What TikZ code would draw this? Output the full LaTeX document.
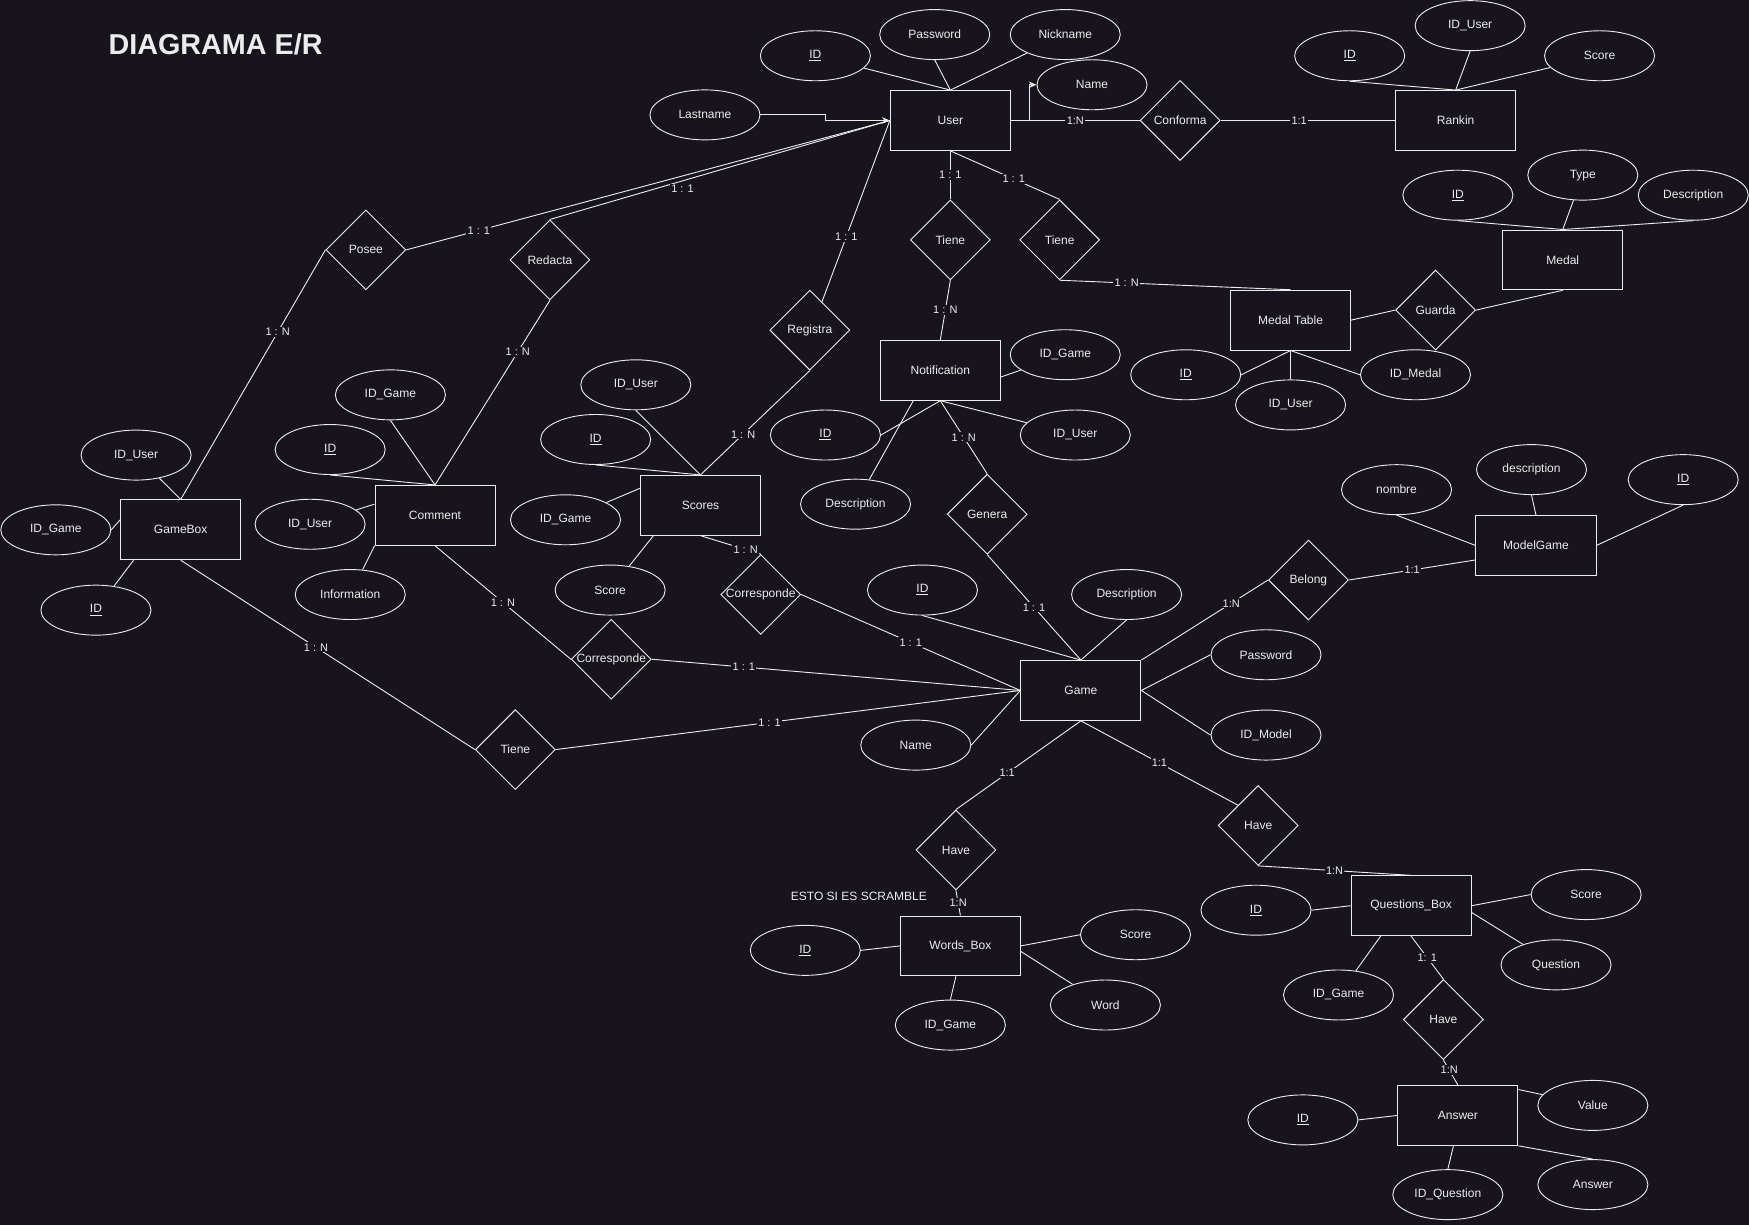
\documentclass[tikz,border=0pt]{standalone}
\usepackage{fontspec}
\setmainfont{Liberation Sans}
\usetikzlibrary{shapes.geometric,arrows.meta,calc}
\definecolor{bgcol}{RGB}{24,20,29}
\definecolor{fgcol}{RGB}{236,236,236}

\begin{document}
\begin{tikzpicture}[x=0.03cm,y=-0.03cm,
color=fgcol, line width=0.7pt,
font=\fontsize{9.2}{11}\selectfont,
ent/.style={draw, fill=bgcol, minimum width=3.23cm, minimum height=1.61cm, inner sep=0pt},
att/.style={draw, ellipse, minimum width=2.96cm, minimum height=1.345cm, inner sep=0pt},
rel/.style={draw, diamond, fill=bgcol, minimum size=2.15cm, inner sep=0pt},
card/.style={fill=bgcol, inner sep=1pt, font=\fontsize{8.4}{10}\selectfont},
arr/.style={-{Stealth[length=6pt,width=5pt]}}]
\fill[bgcol] (0,0) rectangle (1568,1098);
\useasboundingbox (0,0) rectangle (1568,1098);

\node[anchor=west, font=\bfseries\fontsize{22}{26}\selectfont] (title) at (93,40) {DIAGRAMA E/R};
\node (scramble) at (770,804) {ESTO SI ES SCRAMBLE};

\node[ent] (user) at (852,108) {User};
\node[ent] (rankin) at (1305,108) {Rankin};
\node[ent] (medal) at (1401,233) {Medal};
\node[ent] (medtable) at (1157,287) {Medal Table};
\node[ent] (notif) at (843,332) {Notification};
\node[ent] (scores) at (628,453) {Scores};
\node[ent] (comment) at (390,462) {Comment};
\node[ent] (gamebox) at (162,475) {GameBox};
\node[ent] (game) at (969,619) {Game};
\node[ent] (modelgame) at (1377,489) {ModelGame};
\node[ent] (wordsbox) at (861,848) {Words\_Box};
\node[ent] (qbox) at (1265,812) {Questions\_Box};
\node[ent] (answer) at (1307,1000) {Answer};

\node[att] (uID) at (731,50) {\underline{ID}};
\node[att] (uPass) at (838,31) {Password};
\node[att] (uNick) at (955,31) {Nickname};
\node[att] (uName) at (979,76) {Name};
\node[att] (uLast) at (632,103) {Lastname};
\node[att] (rID) at (1210,50) {\underline{ID}};
\node[att] (rUser) at (1318,23) {ID\_User};
\node[att] (rScore) at (1434,50) {Score};
\node[att] (mID) at (1307,175) {\underline{ID}};
\node[att] (mType) at (1419,157) {Type};
\node[att] (mDesc) at (1518,175) {Description};
\node[att] (mtID) at (1063,336) {\underline{ID}};
\node[att] (mtUser) at (1157,363) {ID\_User};
\node[att] (mtMedal) at (1269,336) {ID\_Medal};
\node[att] (nGame) at (955,318) {ID\_Game};
\node[att] (nID) at (740,390) {\underline{ID}};
\node[att] (nUser) at (964,390) {ID\_User};
\node[att] (nDesc) at (767,452) {Description};
\node[att] (sUser) at (570,345) {ID\_User};
\node[att] (sID) at (534,394) {\underline{ID}};
\node[att] (sGame) at (507,466) {ID\_Game};
\node[att] (sScore) at (547,529) {Score};
\node[att] (cGame) at (350,354) {ID\_Game};
\node[att] (cID) at (296,403) {\underline{ID}};
\node[att] (cUser) at (278,470) {ID\_User};
\node[att] (cInfo) at (314,533) {Information};
\node[att] (gbUser) at (122,408) {ID\_User};
\node[att] (gbGame) at (50,475) {ID\_Game};
\node[att] (gbID) at (86,547) {\underline{ID}};
\node[att] (gID) at (827,529) {\underline{ID}};
\node[att] (gDesc) at (1010,533) {Description};
\node[att] (gPass) at (1135,587) {Password};
\node[att] (gModel) at (1135,659) {ID\_Model};
\node[att] (gName) at (821,668) {Name};
\node[att] (mgNombre) at (1252,439) {nombre};
\node[att] (mgDesc) at (1373,421) {description};
\node[att] (mgID) at (1509,430) {\underline{ID}};
\node[att] (wbID) at (722,852) {\underline{ID}};
\node[att] (wbScore) at (1018,838) {Score};
\node[att] (wbWord) at (991,901) {Word};
\node[att] (wbGame) at (852,919) {ID\_Game};
\node[att] (qbID) at (1126,816) {\underline{ID}};
\node[att] (qbScore) at (1422,802) {Score};
\node[att] (qbQuest) at (1395,865) {Question};
\node[att] (qbGame) at (1200,892) {ID\_Game};
\node[att] (aID) at (1168,1004) {\underline{ID}};
\node[att] (aValue) at (1428,991) {Value};
\node[att] (aAnswer) at (1428,1062) {Answer};
\node[att] (aQuest) at (1298,1071) {ID\_Question};

\node[rel] (conforma) at (1058,108) {Conforma};
\node[rel] (tiene1) at (852,215) {Tiene};
\node[rel] (tiene2) at (950,215) {Tiene};
\node[rel] (guarda) at (1287,278) {Guarda};
\node[rel] (posee) at (328,224) {Posee};
\node[rel] (redacta) at (493,233) {Redacta};
\node[rel] (registra) at (726,296) {Registra};
\node[rel] (genera) at (885,461) {Genera};
\node[rel] (corr1) at (682,533) {\makebox[0pt]{Corresponde}};
\node[rel] (corr2) at (548,591) {\makebox[0pt]{Corresponde}};
\node[rel] (tiene3) at (462,672) {Tiene};
\node[rel] (belong) at (1173,520) {Belong};
\node[rel] (have1) at (857,762) {Have};
\node[rel] (have2) at (1128,740) {Have};
\node[rel] (have3) at (1294,914) {Have};

\draw (uID) -- (user.north);
\draw (uPass.south) -- (user.north);
\draw (uNick) -- (user.north);
\draw[arr] (user.east) -- ++(17,0) |- (uName.west);
\draw[arr] (uLast.east) -- ++(58,0) |- (user.west);
\draw (rID.south) -- (rankin.north);
\draw (rUser.south) -- (rankin.north);
\draw (rScore) -- (rankin.north);
\draw (mID.south) -- (medal.north);
\draw (mType) -- (medal.north);
\draw (mDesc.south) -- (medal.north);
\draw (mtID.east) -- (medtable.south);
\draw (mtUser.north) -- (medtable.south);
\draw (mtMedal.west) -- (medtable.south);
\draw (nGame) -- ($(notif.east)+(0,6)$);
\draw (nID.east) -- (notif.south);
\draw (nUser) -- (notif.south);
\draw (nDesc) -- ($(notif.south west)+(30,0)$);
\draw (sUser.south) -- (scores.north);
\draw (sID.south) -- (scores.north);
\draw (sGame) -- ($(scores.north west)+(0,12)$);
\draw (sScore) -- ($(scores.south west)+(12,0)$);
\draw (cGame.south) -- (comment.north);
\draw (cID.south) -- (comment.north);
\draw (cUser) -- ($(comment.west)+(0,-10)$);
\draw (cInfo) -- (comment.south west);
\draw (gbUser) -- (gamebox.north);
\draw (gbGame.east) -- ($(gamebox.west)+(0,-9)$);
\draw (gbID) -- ($(gamebox.south west)+(12,0)$);
\draw (gID.south) -- (game.north);
\draw (gDesc.south) -- (game.north);
\draw (gPass.west) -- (game.east);
\draw (gModel.west) -- (game.east);
\draw (gName.east) -- (game.west);
\draw (mgNombre.south) -- (modelgame.west);
\draw (mgDesc.south) -- (modelgame.north);
\draw (mgID.south) -- (modelgame.east);
\draw (wbID.east) -- (wordsbox.west);
\draw (wbScore.west) -- (wordsbox.east);
\draw (wbWord) -- ($(wordsbox.east)+(0,5)$);
\draw (wbGame.north) -- ($(wordsbox.south)+(-4,0)$);
\draw (qbID.east) -- (qbox.west);
\draw (qbScore.west) -- (qbox.east);
\draw (qbQuest) -- ($(qbox.east)+(0,6)$);
\draw (qbGame) -- ($(qbox.south west)+(27,0)$);
\draw (aID.east) -- (answer.west);
\draw (aValue) -- ($(answer.north east)+(0,4)$);
\draw (aAnswer.north) -- (answer.south east);
\draw (aQuest.north) -- ($(answer.south)+(-4,0)$);

\draw (user.east) -- node[card]{1:N} (conforma.west);
\draw (conforma.east) -- node[card,pos=0.45]{1:1} (rankin.west);
\draw (user.south) -- node[card]{1 : 1} (tiene1.north);
\draw (user.south) -- node[card,pos=0.58]{1 : 1} (tiene2.north);
\draw (tiene1.south) -- node[card]{1 : N} (notif.north);
\draw (tiene2.south) -- node[card,pos=0.29]{1 : N} (medtable.north);
\draw (medtable.east) -- (guarda.west);
\draw (guarda.east) -- (medal.south);
\draw (user.west) -- node[card,pos=0.85]{1 : 1} (posee.east);
\draw (user.west) -- node[card,pos=0.61,yshift=-6pt]{1 : 1} (redacta.north);
\draw (posee.west) -- node[card,pos=0.33]{1 : N} (gamebox.north);
\draw (redacta.south) -- node[card,pos=0.28]{1 : N} (comment.north);
\draw (user.west) -- node[card,pos=0.64]{1 : 1} ($(registra.north)!0.3!(registra.east)$);
\draw (registra.south) -- node[card,pos=0.61]{1 : N} (scores.north);
\draw (notif.south) -- node[card]{1 : N} (genera.north);
\draw (genera.south) -- node[card]{1 : 1} (game.north);
\draw (scores.south) -- node[card,pos=0.75]{1 : N} (corr1.north);
\draw (corr1.east) -- node[card]{1 : 1} (game.west);
\draw (comment.south) -- node[card]{1 : N} (corr2.west);
\draw (corr2.east) -- node[card,pos=0.25]{1 : 1} (game.west);
\draw (gamebox.south) -- node[card,pos=0.46]{1 : N} (tiene3.west);
\draw (tiene3.east) -- node[card,pos=0.46]{1 : 1} (game.west);
\draw (game.north east) -- node[card,pos=0.71]{1:N} (belong.west);
\draw (belong.east) -- node[card]{1:1} ($(modelgame.west)+(0,13)$);
\draw (game.south) -- node[card,pos=0.59]{1:1} (have1.north);
\draw (have1.south) -- node[card]{1:N} (wordsbox.north);
\draw (game.south) -- node[card]{1:1} ($(have2.north)!0.5!(have2.west)$);
\draw (have2.south) -- node[card]{1:N} (qbox.north);
\draw (qbox.south) -- node[card]{1: 1} (have3.north);
\draw (have3.south) -- node[card,pos=0.4]{1:N} (answer.north);
\end{tikzpicture}
\end{document}
